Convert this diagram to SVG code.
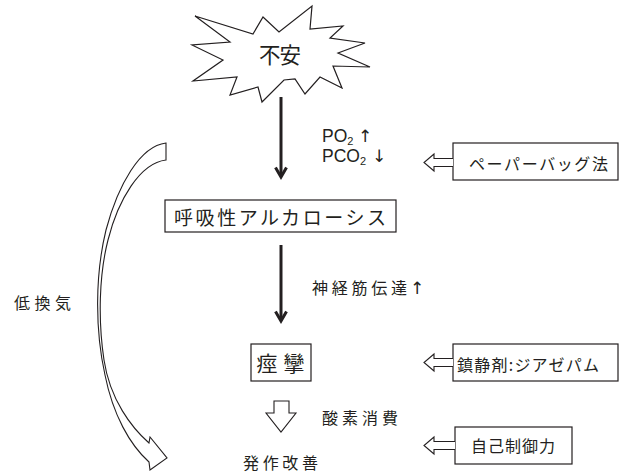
<svg xmlns="http://www.w3.org/2000/svg" width="623" height="474" viewBox="0 0 623 474">
<style>
.jp{font-family:"Noto Sans CJK JP","Noto Sans CJK SC",sans-serif;fill:#231f20}
.la{font-family:"Liberation Sans",Arial,sans-serif;fill:#231f20}
.ar{font-family:"DejaVu Sans",sans-serif;fill:#231f20}
.box{fill:#fff;stroke:#231f20;stroke-width:1.2}
.hollow{fill:#fff;stroke:#231f20;stroke-width:1.1;stroke-linejoin:miter}
.shaft{stroke:#231f20;stroke-width:3;fill:none}
.head{stroke:#231f20;stroke-width:3;fill:none;stroke-linejoin:miter}
</style>
<rect width="623" height="474" fill="#fff"/>
<g id="anxiety">
<polygon class="box" points="195,16 253,34 263,17 279,32 312,6 310,29 343,26 330,38 365,43 338,53 370,67 333,66 342,88 320,77 305,94 295,79 284,80 262,102 258,87 230,95 237,77 193,81 223,60 192,45 230,42"/>
<text class="jp" x="259" y="62.5" font-size="21.5" textLength="42" lengthAdjust="spacing">不安</text>
</g>
<g id="alkalosis">
<rect class="box" x="165" y="200" width="231" height="32"/>
<text class="jp" x="174" y="225" font-size="19" textLength="212" lengthAdjust="spacing">呼吸性アルカローシス</text>
</g>
<g id="spasm">
<rect class="box" x="251" y="344" width="60" height="37"/>
<text class="jp" x="256.5" y="371" font-size="21" textLength="48" lengthAdjust="spacing">痙攣</text>
</g>
<g id="improvement">
<text class="jp" x="243" y="468.5" font-size="16" textLength="75" lengthAdjust="spacing">発作改善</text>
</g>
<g id="paperbag">
<rect class="box" x="453" y="143" width="165" height="37"/>
<text class="jp" x="469" y="169.5" font-size="16" textLength="139" lengthAdjust="spacing">ペーパーバッグ法</text>
</g>
<g id="sedative">
<rect class="box" x="453" y="344" width="165" height="37"/>
<text class="jp" x="457" y="370.5" font-size="16" textLength="142" lengthAdjust="spacing">鎮静剤:ジアゼパム</text>
</g>
<g id="selfcontrol">
<rect class="box" x="455" y="427" width="117" height="37"/>
<text class="jp" x="471" y="451.5" font-size="16" textLength="84" lengthAdjust="spacing">自己制御力</text>
</g>
<g id="connectors">
<line class="shaft" x1="281" y1="97" x2="281" y2="176"/>
<polyline class="head" points="275.5,167.5 281,177 286.5,167.5"/>
<line class="shaft" x1="281" y1="245" x2="281" y2="320"/>
<polyline class="head" points="275.5,311.5 281,321 286.5,311.5"/>
<path class="hollow" d="M274,401 L289,401 L289,413 L296,413 L281,432 L266,413 L274,413 Z"/>
<path class="hollow" d="M453,158.5 L434,158.5 L434,154 L424,162.5 L434,171 L434,166.5 L453,166.5"/>
<path class="hollow" d="M453,358.5 L434,358.5 L434,354 L424,362.5 L434,371 L434,366.5 L453,366.5"/>
<path class="hollow" d="M455,441.5 L434,441.5 L434,437 L424,445.5 L434,454 L434,449.5 L455,449.5"/>
<path class="hollow" d="M166,143 C140,146 118,185 106,230 C95,275 95,330 105,375 C113,415 130,445 149,462 L150,470 L167,458 L150,437 L149,443 C132,428 110,400 104,360 C98,320 99,275 108,240 C118,200 140,163 166,160 Z"/>
</g>
<g id="labels">
<text class="la" x="322" y="141.5" font-size="17.5">PO<tspan font-size="11" dy="3">2</tspan><tspan class="ar" x="358" dy="-3" font-size="17">↑</tspan></text>
<text class="la" x="322" y="161.5" font-size="17.5">PCO<tspan font-size="11" dy="3">2</tspan><tspan class="ar" x="372" dy="-3" font-size="17">↓</tspan></text>
<text class="jp" x="312" y="293.5" font-size="16"><tspan textLength="95" lengthAdjust="spacing">神経筋伝達</tspan><tspan class="ar" x="410" font-size="17">↑</tspan></text>
<text class="jp" x="322" y="423.5" font-size="16" textLength="76" lengthAdjust="spacing">酸素消費</text>
<text class="jp" x="14" y="308.5" font-size="16" textLength="57" lengthAdjust="spacing">低換気</text>
</g>
</svg>
